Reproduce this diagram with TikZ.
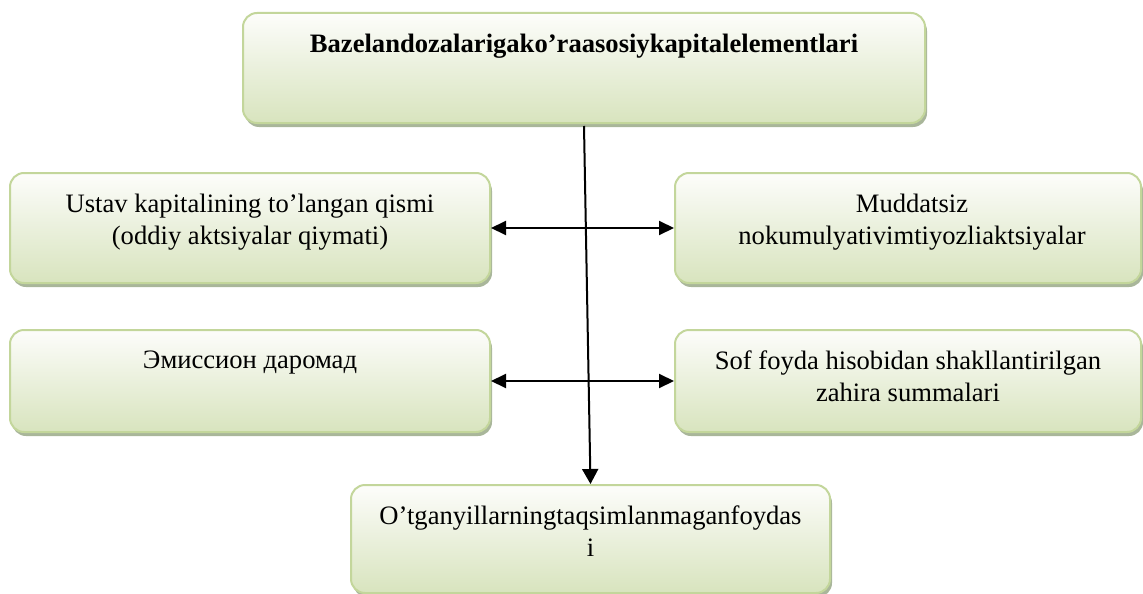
\documentclass[tikz,border=0pt]{standalone}
\usepackage{fontspec}
\setmainfont{Liberation Serif}
\usetikzlibrary{arrows.meta,shadows}

\definecolor{boxtop}{HTML}{FDFDFB}
\definecolor{boxmid}{HTML}{EAF0DC}
\definecolor{boxbot}{HTML}{D8E4BE}
\definecolor{boxline}{HTML}{C3D69B}
\definecolor{boxshade}{HTML}{A9B69A}
\newcommand\capsize{\fontsize{26.6}{32}\selectfont}

\tikzset{
  capbox/.style={draw=boxline, line width=2pt, rounded corners=14pt,
    top color=boxtop, bottom color=boxbot, middle color=boxmid,
    drop shadow={shadow xshift=2pt, shadow yshift=-4pt, fill=boxshade, opacity=1},
    inner sep=0pt},
  captext/.style={anchor=north, align=center, inner sep=0pt, font=\capsize},
  link/.style={line width=2pt, {Triangle[length=15pt,width=14pt]}-{Triangle[length=15pt,width=14pt]}},
}

\begin{document}
\begin{tikzpicture}[x=1pt, y=-1pt]
	\useasboundingbox (0,0) rectangle (1143,594);
	% boxes
	\node[capbox, minimum width=682pt, minimum height=110pt] (basel) at (584, 68) {};
	\node[capbox, minimum width=480pt, minimum height=110pt] (ustav) at (250, 228) {};
	\node[capbox, minimum width=466pt, minimum height=110pt] (mudd) at (908, 228) {};
	\node[capbox, minimum width=480pt, minimum height=102pt] (emis) at (250, 381) {};
	\node[capbox, minimum width=466pt, minimum height=102pt] (sof) at (908, 381) {};
	\node[capbox, minimum width=479pt, minimum height=108pt] (foyda) at (590.5, 539) {};

	% texts
	\node[captext, font=\capsize\bfseries] (baselt) at ([yshift=-22pt]basel.north) {Bazelandozalarigako’raasosiykapitalelementlari};
	\node[captext] (ustavt) at ([yshift=-22pt]ustav.north) {Ustav kapitalining to’langan qismi\\(oddiy aktsiyalar qiymati)};
	\node[captext] (muddt) at ([xshift=4pt, yshift=-22pt]mudd.north) {Muddatsiz\\nokumulyativimtiyozliaktsiyalar};
	\node[captext] (emist) at ([yshift=-22pt]emis.north) {Эмиссион даромад};
	\node[captext] (soft) at ([yshift=-22pt]sof.north) {Sof foyda hisobidan shakllantirilgan\\zahira summalari};
	\node[captext] (foydat) at ([yshift=-22pt]foyda.north) {O’tganyillarningtaqsimlanmaganfoydas\\i};

	% connectors
	\draw[link] (ustav.east) -- (mudd.west);
	\draw[link] (emis.east) -- (sof.west);
	\draw[line width=2pt, -{Triangle[length=15pt,width=16pt]}] ([yshift=-2pt]basel.south) -- (foyda.north);
\end{tikzpicture}
\end{document}
